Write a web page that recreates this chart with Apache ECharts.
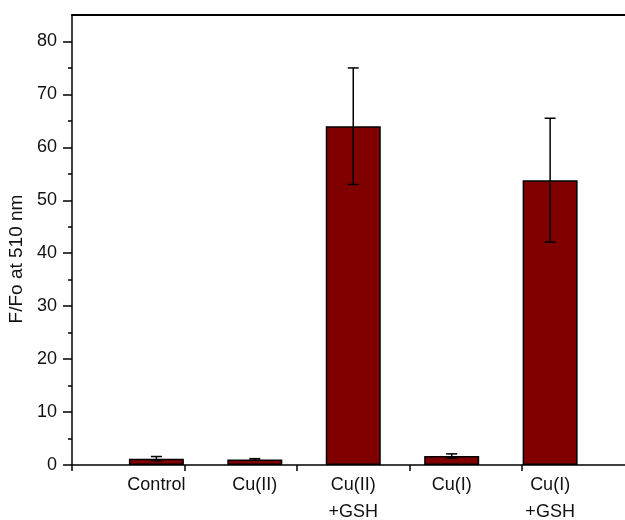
<!DOCTYPE html>
<html>
<head>
<meta charset="utf-8">
<script src="https://cdn.jsdelivr.net/npm/echarts@6/dist/echarts.min.js"></script>
<style>
html, body { margin: 0; padding: 0; background: #fff; }
#main { width: 625px; height: 520px; }
</style>
</head>
<body>
<div id="main"></div>
<script>
// data
var categories = ['Control', 'Cu(II)', 'Cu(II)\n+GSH', 'Cu(I)', 'Cu(I)\n+GSH'];
var barPositions = [0.75, 1.625, 2.5, 3.375, 4.25];
var means = [1.2, 1.05, 64, 1.7, 53.8];
var errors = [0.4, 0.15, 11, 0.4, 11.7];
var xTicks = [0, 1, 2, 3, 4];
var yTicks = [0, 10, 20, 30, 40, 50, 60, 70, 80];
var yMinorTicks = [5, 15, 25, 35, 45, 55, 65, 75];

var font = 'Liberation Sans, Arial, sans-serif';
var chart = echarts.init(document.getElementById('main'));

var barData = barPositions.map(function (x, i) { return [x, means[i]]; });
var errData = barPositions.map(function (x, i) {
	return [x, means[i] - errors[i], means[i] + errors[i]];
});

function labelFor(v) {
	var best = 0;
	for (var i = 1; i < barPositions.length; i++) {
		if (Math.abs(barPositions[i] - v) < Math.abs(barPositions[best] - v)) best = i;
	}
	return categories[best];
}

var option = {
	animation: false,
	grid: { left: 72, right: 0, top: 15, bottom: 55, containLabel: false, outerBoundsMode: 'none' },
	xAxis: [
		{
			type: 'value',
			position: 'bottom',
			min: 0,
			max: 553 / 112.5,
			axisLine: { show: true, onZero: false, lineStyle: { color: '#000', width: 1.5 } },
			axisTick: { show: true, customValues: xTicks, length: 6, lineStyle: { color: '#000', width: 1.5 } },
			axisLabel: {
				customValues: barPositions,
				formatter: labelFor,
				color: '#111',
				fontFamily: font,
				fontSize: 18,
				lineHeight: 27,
				margin: 7
			},
			splitLine: { show: false }
		},
		{
			type: 'value',
			position: 'top',
			min: 0,
			max: 553 / 112.5,
			axisLine: { show: true, onZero: false, lineStyle: { color: '#000', width: 2 } },
			axisTick: { show: false },
			axisLabel: { show: false },
			splitLine: { show: false }
		}
	],
	yAxis: [
		{
			type: 'value',
			position: 'left',
			min: 0,
			max: 85,
			name: 'F/Fo at 510 nm',
			nameLocation: 'middle',
			nameGap: 38,
			nameTextStyle: { color: '#111', fontFamily: font, fontSize: 19, padding: [0, 38, 0, 0] },
			axisLine: { show: true, onZero: false, lineStyle: { color: '#000', width: 1.5 } },
			axisTick: { show: true, customValues: yTicks, length: 9, lineStyle: { color: '#000', width: 1.5 } },
			axisLabel: { customValues: yTicks, color: '#111', fontFamily: font, fontSize: 18, margin: 15 },
			splitLine: { show: false }
		},
		{
			type: 'value',
			position: 'left',
			min: 0,
			max: 85,
			axisLine: { show: false, onZero: false },
			axisTick: { show: true, customValues: yMinorTicks, length: 4, lineStyle: { color: '#000', width: 1.5 } },
			axisLabel: { show: false },
			splitLine: { show: false }
		}
	],
	series: [
		{
			type: 'bar',
			xAxisIndex: 0,
			yAxisIndex: 0,
			barWidth: 55,
			data: barData,
			itemStyle: { color: '#800000', borderColor: '#000', borderWidth: 1.5 }
		},
		{
			type: 'custom',
			xAxisIndex: 0,
			yAxisIndex: 0,
			z: 5,
			data: errData,
			renderItem: function (params, api) {
				var lo = api.coord([api.value(0), api.value(1)]);
				var hi = api.coord([api.value(0), api.value(2)]);
				var w = 5.5;
				var style = { stroke: '#000', lineWidth: 1.5 };
				return {
					type: 'group',
					children: [
						{ type: 'line', shape: { x1: hi[0], y1: hi[1], x2: lo[0], y2: lo[1] }, style: style },
						{ type: 'line', shape: { x1: hi[0] - w, y1: hi[1], x2: hi[0] + w, y2: hi[1] }, style: style },
						{ type: 'line', shape: { x1: lo[0] - w, y1: lo[1], x2: lo[0] + w, y2: lo[1] }, style: style }
					]
				};
			}
		}
	]
};

chart.setOption(option);
</script>
</body>
</html>
